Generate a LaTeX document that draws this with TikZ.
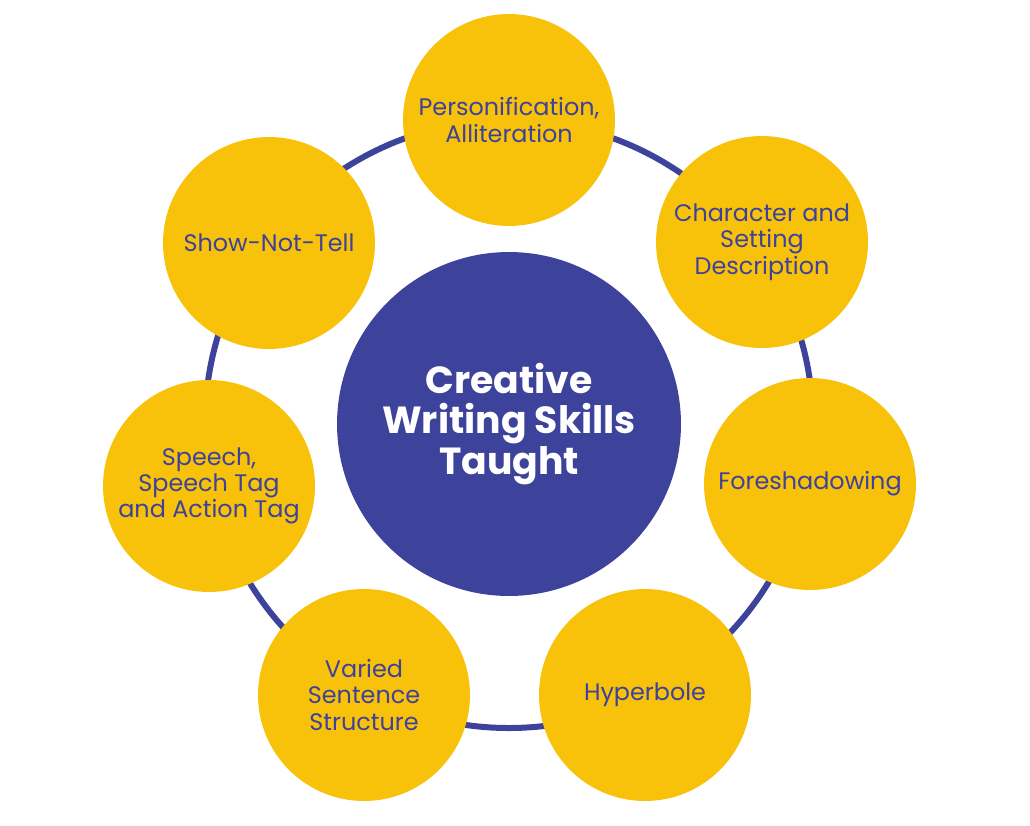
\documentclass[tikz,border=0pt]{standalone}
\usepackage{fontspec}
\setmainfont{Poppins}
\usepackage{xcolor}
\definecolor{skillyellow}{HTML}{F8C10A}
\definecolor{skillblue}{HTML}{3D429B}
\tikzset{
	skill/.style={circle, fill=skillyellow, minimum size=4.24cm, inner sep=0pt, align=center, text=skillblue, font=\fontsize{13.6}{15}\selectfont},
	hub/.style={circle, fill=skillblue, minimum size=6.88cm, inner sep=0pt, align=center, text=white, font=\fontsize{21.5}{22.8}\selectfont\bfseries}
}
\begin{document}
\begin{tikzpicture}[x=0.02cm, y=-0.02cm]
		\useasboundingbox (0,0) rectangle (1030,825);
		\draw[skillblue, line width=0.12cm] (509,424) circle (304);
		\node[hub] (hub) at (509,424) {Creative\\Writing Skills\\Taught};
		\node[skill] (pers) at (509,120) {Personification,\\Alliteration};
		\node[skill] (char) at (762,242) {Character and\\Setting\\Description};
		\node[skill] (fore) at (810,484) {Foreshadowing};
		\node[skill] (hyper) at (645,695) {Hyperbole};
		\node[skill] (varied) at (364,695) {Varied\\Sentence\\Structure};
		\node[skill] (speech) at (209,486) {Speech,\\Speech Tag\\and Action Tag};
		\node[skill] (show) at (269,243) {Show-Not-Tell};
\end{tikzpicture}
\end{document}
